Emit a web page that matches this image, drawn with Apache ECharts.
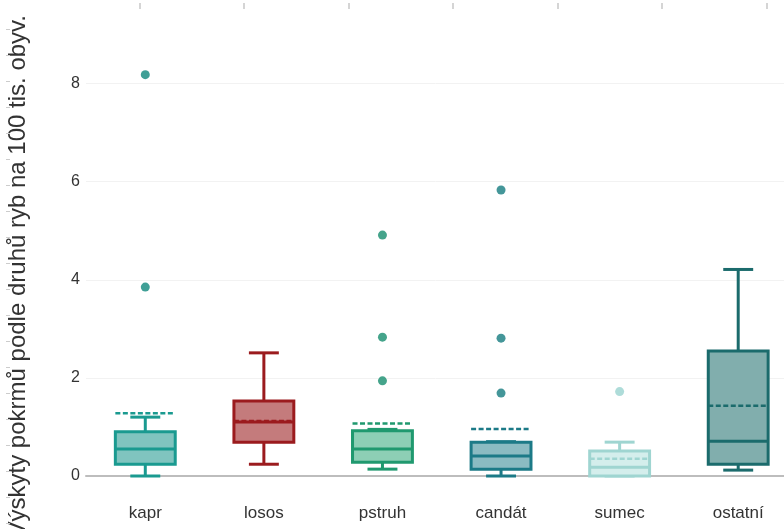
<!DOCTYPE html>
<html>
<head>
<meta charset="utf-8">
<script src="https://cdn.jsdelivr.net/npm/echarts@6/dist/echarts.min.js"></script>
<style>
  html, body { margin: 0; padding: 0; background: #fff; }
  #chart { width: 784px; height: 529px; }
</style>
</head>
<body>
<div id="chart"></div>
<script>
// categories and box statistics
const categories = ["kapr", "losos", "pstruh", "candát", "sumec", "ostatní"];
const lowerWhisker = [0, 0.24, 0.14, 0, 0, 0.12];
const q1 = [0.24, 0.69, 0.28, 0.14, 0, 0.24];
const median = [0.55, 1.1, 0.55, 0.41, 0.18, 0.71];
const q3 = [0.9, 1.53, 0.92, 0.69, 0.51, 2.55];
const upperWhisker = [1.2, 2.51, 0.95, 0.7, 0.69, 4.21];
const mean = [1.28, 1.12, 1.07, 0.96, 0.35, 1.43];
// outliers as [categoryIndex, value]
const outliers = [
  [0, 8.18], [0, 3.85],
  [2, 4.91], [2, 2.83], [2, 1.94],
  [3, 5.83], [3, 2.81], [3, 1.69],
  [4, 1.72]
];
const yTicks = [0, 2, 4, 6, 8];

const strokeColors = ["#1a9a90", "#9b1b1e", "#20996f", "#1c7a87", "#9fd5d1", "#1b6b6c"];
const fillColors = ["#80c4bf", "#c47b7c", "#8dcfb5", "#8bbbc2", "#d4eeec", "#81aead"];
const dotColors = ["#0f877c", "#9b1b1e", "#168d6e", "#157c80", "#9ad3cf", "#1b6b6c"];

const FONT = "'Liberation Sans', Arial, sans-serif";
const chart = echarts.init(document.getElementById("chart"));

const option = {
  animation: false,
  textStyle: { fontFamily: FONT },
  grid: [
    // main plot; it runs past the right and top edges of the picture
    { left: 86, right: -13.5, top: -14.6, bottom: 53, outerBoundsMode: "none" },
    // faint marks along the left edge
    { left: 10, width: 10, top: 29, height: 494, outerBoundsMode: "none" },
    // faint marks along the top edge
    { left: 139.3, width: 627, top: -1, height: 10, outerBoundsMode: "none" }
  ],
  xAxis: [
    {
      type: "category",
      gridIndex: 0,
      data: categories,
      boundaryGap: true,
      axisLine: { show: true, lineStyle: { color: "#bdbdbd", width: 2 } },
      axisTick: { show: false },
      axisLabel: { color: "#333", fontSize: 17, margin: 29, fontFamily: FONT },
      splitLine: { show: false }
    },
    { type: "value", gridIndex: 1, show: false },
    {
      type: "value", gridIndex: 2, position: "top", min: 0, max: 6, interval: 1,
      axisLine: { show: false },
      axisTick: { show: true, length: 6, lineStyle: { color: "#c8c8c8", width: 1.5 } },
      axisLabel: { show: false },
      splitLine: { show: false }
    }
  ],
  yAxis: [
    {
      type: "value",
      gridIndex: 0,
      min: 0,
      max: 10,
      interval: 2,
      axisLine: { show: false },
      axisTick: { show: false },
      axisLabel: {
        color: "#333", fontSize: 16, margin: 6, fontFamily: FONT,
        formatter: v => (yTicks.includes(v) ? String(v) : "")
      },
      splitLine: { lineStyle: { color: "#f2f2f2", width: 1 } }
    },
    {
      type: "value", gridIndex: 1, min: 0, max: 19, interval: 1,
      axisLine: { show: false },
      axisTick: { show: true, length: 4, lineStyle: { color: "#cccccc", width: 1 } },
      axisLabel: { show: false },
      splitLine: { show: false }
    },
    { type: "value", gridIndex: 2, show: false }
  ],
  graphic: [
    {
      type: "text",
      x: 18,
      y: 15,
      rotation: Math.PI / 2,
      style: {
        text: "Výskyty pokrmů podle druhů ryb na 100 tis. obyv.",
        fill: "#333",
        font: "24px " + FONT,
        textAlign: "right",
        textVerticalAlign: "middle"
      }
    }
  ],
  series: [
    {
      type: "custom",
      xAxisIndex: 0,
      yAxisIndex: 0,
      data: categories.map((c, i) => [i, lowerWhisker[i], q1[i], median[i], q3[i], upperWhisker[i], mean[i]]),
      renderItem: (params, api) => {
        const i = api.value(0);
        const bw = api.size([1, 0])[0] * 0.505;
        const x = api.coord([i, 0])[0];
        const y = v => api.coord([i, v])[1];
        const stroke = strokeColors[i];
        const line = (x1, y1, x2, y2, extra) => ({
          type: "line",
          shape: { x1, y1, x2, y2 },
          style: Object.assign({ stroke, lineWidth: 3 }, extra || {})
        });
        const yLo = y(api.value(1)), yQ1 = y(api.value(2)), yMed = y(api.value(3));
        const yQ3 = y(api.value(4)), yHi = y(api.value(5)), yMean = y(api.value(6));
        return {
          type: "group",
          children: [
            line(x, yQ3, x, yHi),
            line(x, yQ1, x, yLo),
            line(x - bw / 4, yHi, x + bw / 4, yHi),
            line(x - bw / 4, yLo, x + bw / 4, yLo),
            {
              type: "rect",
              shape: { x: x - bw / 2, y: yQ3, width: bw, height: yQ1 - yQ3 },
              style: { fill: fillColors[i], stroke, lineWidth: 3 }
            },
            line(x - bw / 2, yMed, x + bw / 2, yMed),
            line(x - bw / 2, yMean, x + bw / 2, yMean, { lineWidth: 2.5, lineDash: [5, 2.5] })
          ]
        };
      }
    },
    {
      type: "scatter",
      xAxisIndex: 0,
      yAxisIndex: 0,
      symbolSize: 9,
      data: outliers.map(([c, v]) => ({
        value: [c, v],
        itemStyle: { color: dotColors[c] }
      }))
    }
  ]
};

chart.setOption(option);
</script>
</body>
</html>
